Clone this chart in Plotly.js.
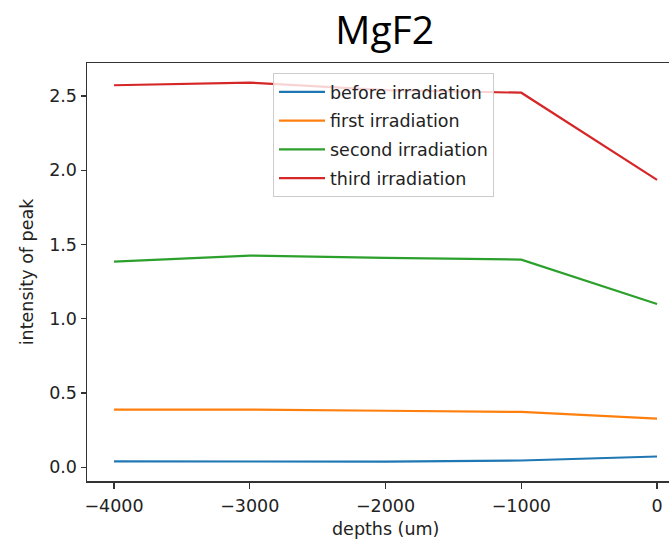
<!DOCTYPE html>
<html>
<head>
<meta charset="utf-8">
<script src="https://cdn.plot.ly/plotly-3.0.1.min.js"></script>
<style>html,body{margin:0;padding:0;background:#fff;}#chart{width:669px;height:543px;}</style>
</head>
<body>
<div id="chart"></div>
<script>
const depths = [-4000, -3000, -2000, -1000, 0];
const beforeIrradiation = [0.039, 0.037, 0.038, 0.045, 0.072];
const firstIrradiation = [0.388, 0.388, 0.380, 0.372, 0.327];
const secondIrradiation = [1.384, 1.425, 1.410, 1.398, 1.099];
const thirdIrradiation = [2.572, 2.590, 2.540, 2.522, 1.935];
const seriesNames = ["before irradiation", "first irradiation", "second irradiation", "third irradiation"];
const seriesColors = ["#1f77b4", "#ff7f0e", "#2ca02c", "#d62728"];
const seriesValues = [beforeIrradiation, firstIrradiation, secondIrradiation, thirdIrradiation];
const yTicks = [0, 0.5, 1.0, 1.5, 2.0, 2.5];
const xTicks = [-4000, -3000, -2000, -1000, 0];
const xTitle = "depths (um)";

const font = "DejaVu Sans, sans-serif";
const fs = 17.5;
const traces = seriesValues.map((v, i) => ({
  x: depths, y: v, type: "scatter", mode: "lines",
  name: seriesNames[i], legendgroup: "g" + i,
  line: {color: seriesColors[i], width: 2.2}
}));

const layout = {
  width: 669, height: 543,
  margin: {l: 87, r: 0, t: 63, b: 61.5, pad: 0},
  paper_bgcolor: "#fff", plot_bgcolor: "#fff",
  title: {text: "MgF2", font: {family: "Open Sans, sans-serif", size: 39, color: "#000"}, x: 0.575, xanchor: "center", yref: "container", y: 0.945, yanchor: "middle"},
  xaxis: {
    range: [-4199, 88], tickvals: xTicks, ticktext: xTicks.map(t => t < 0 ? "\u2212" + Math.abs(t) : String(t)),
    showgrid: false, zeroline: false, showline: true, mirror: true, linecolor: "#333", linewidth: 1.5,
    ticks: "outside", ticklen: 6, tickwidth: 1.2, tickcolor: "#333", ticklabelstandoff: 2,
    tickfont: {family: font, size: fs, color: "#222"}
  },
  yaxis: {
    range: [-0.093, 2.722], tickvals: yTicks, ticktext: yTicks.map(t => t.toFixed(1)),
    showgrid: false, zeroline: false, showline: true, mirror: false, linecolor: "#333", linewidth: 1.5,
    ticks: "outside", ticklen: 5, tickwidth: 1.2, tickcolor: "#333",
    tickfont: {family: font, size: fs, color: "#222"},
    title: {text: "intensity of peak", font: {family: font, size: fs, color: "#222"}, standoff: 11}
  },
  annotations: [{
    text: xTitle, xref: "x", x: -2000, yref: "paper", y: -0.116, xanchor: "center", yanchor: "middle",
    showarrow: false, font: {family: font, size: fs, color: "#222"}
  }],
  legend: {
    x: 0.3196, y: 0.976, xanchor: "left", yanchor: "top",
    bgcolor: "rgba(255,255,255,0.8)", bordercolor: "#ccc", borderwidth: 1,
    font: {family: font, size: fs, color: "#222"},
    itemwidth: 46,
    traceorder: "grouped", tracegroupgap: 3
  },
  showlegend: true
};
Plotly.newPlot("chart", traces, layout, {staticPlot: true, displayModeBar: false});
</script>
</body>
</html>
